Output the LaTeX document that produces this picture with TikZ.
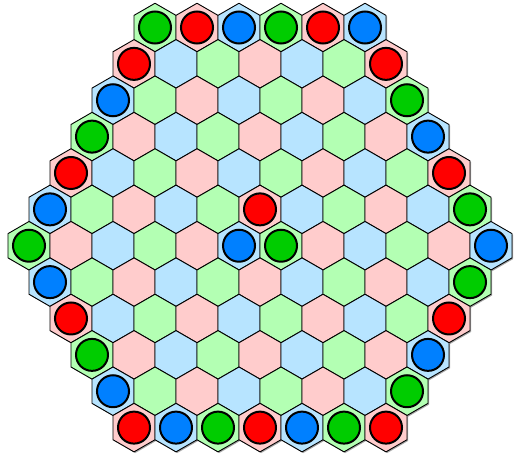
\documentclass[tikz,border=0pt]{standalone}
\usepackage{xcolor}
\usepackage{tikz}
\usetikzlibrary{positioning}

\definecolor{cellred}{RGB}{255,204,204}
\definecolor{cellblue}{RGB}{183,228,255}
\definecolor{cellgreen}{RGB}{179,255,179}
\definecolor{piecered}{RGB}{255,0,0}
\definecolor{pieceblue}{RGB}{0,128,255}
\definecolor{piecegreen}{RGB}{0,204,0}

\begin{document}
\begin{tikzpicture}[
  x=1pt, y=-1pt,
  cell/.style={draw=black, line width=0.9pt, line join=round},
  shade/.style={fill=black!35, draw=none},
  piece/.style={circle, draw=black, line width=2pt, minimum size=32pt, inner sep=0pt}
]
\useasboundingbox (0,0) rectangle (516,458);
\def\hr{24.249}
\foreach \row in {0,...,11} {
  \pgfmathtruncatemacro{\start}{abs(6-\row)}
  \pgfmathtruncatemacro{\num}{\row<=6 ? 6+\row : 18-\row}
  \foreach \k in {1,...,\num} {
    \pgfmathtruncatemacro{\c}{\start+2*(\k-1)}
    \pgfmathsetmacro{\x}{29+21*\c}
    \pgfmathsetmacro{\y}{27.5+36.373*\row}
    \pgfmathtruncatemacro{\m}{mod(\c,3)}
    \edef\col{\ifcase\m green\or blue\or red\fi}
    \pgfmathtruncatemacro{\edge}{(\row==0) || (\row==11) || (\k==1) || (\k==\num)
      || (\row==5 && \c==11) || (\row==6 && (\c==10 || \c==12)) ? 1 : 0}
    \draw[shade] (\x+1.2,\y+1.2) +(90:\hr) -- +(150:\hr) -- +(210:\hr)
      -- +(270:\hr) -- +(330:\hr) -- +(30:\hr) -- cycle;
    \draw[cell, fill=cell\col] (\x,\y) +(90:\hr) -- +(150:\hr) -- +(210:\hr)
      -- +(270:\hr) -- +(330:\hr) -- +(30:\hr) -- cycle;
    \ifnum\edge=1
      \node[piece, fill=piece\col] (p-\row-\c) at (\x,\y) {};
    \fi
  }
}
\end{tikzpicture}
\end{document}
